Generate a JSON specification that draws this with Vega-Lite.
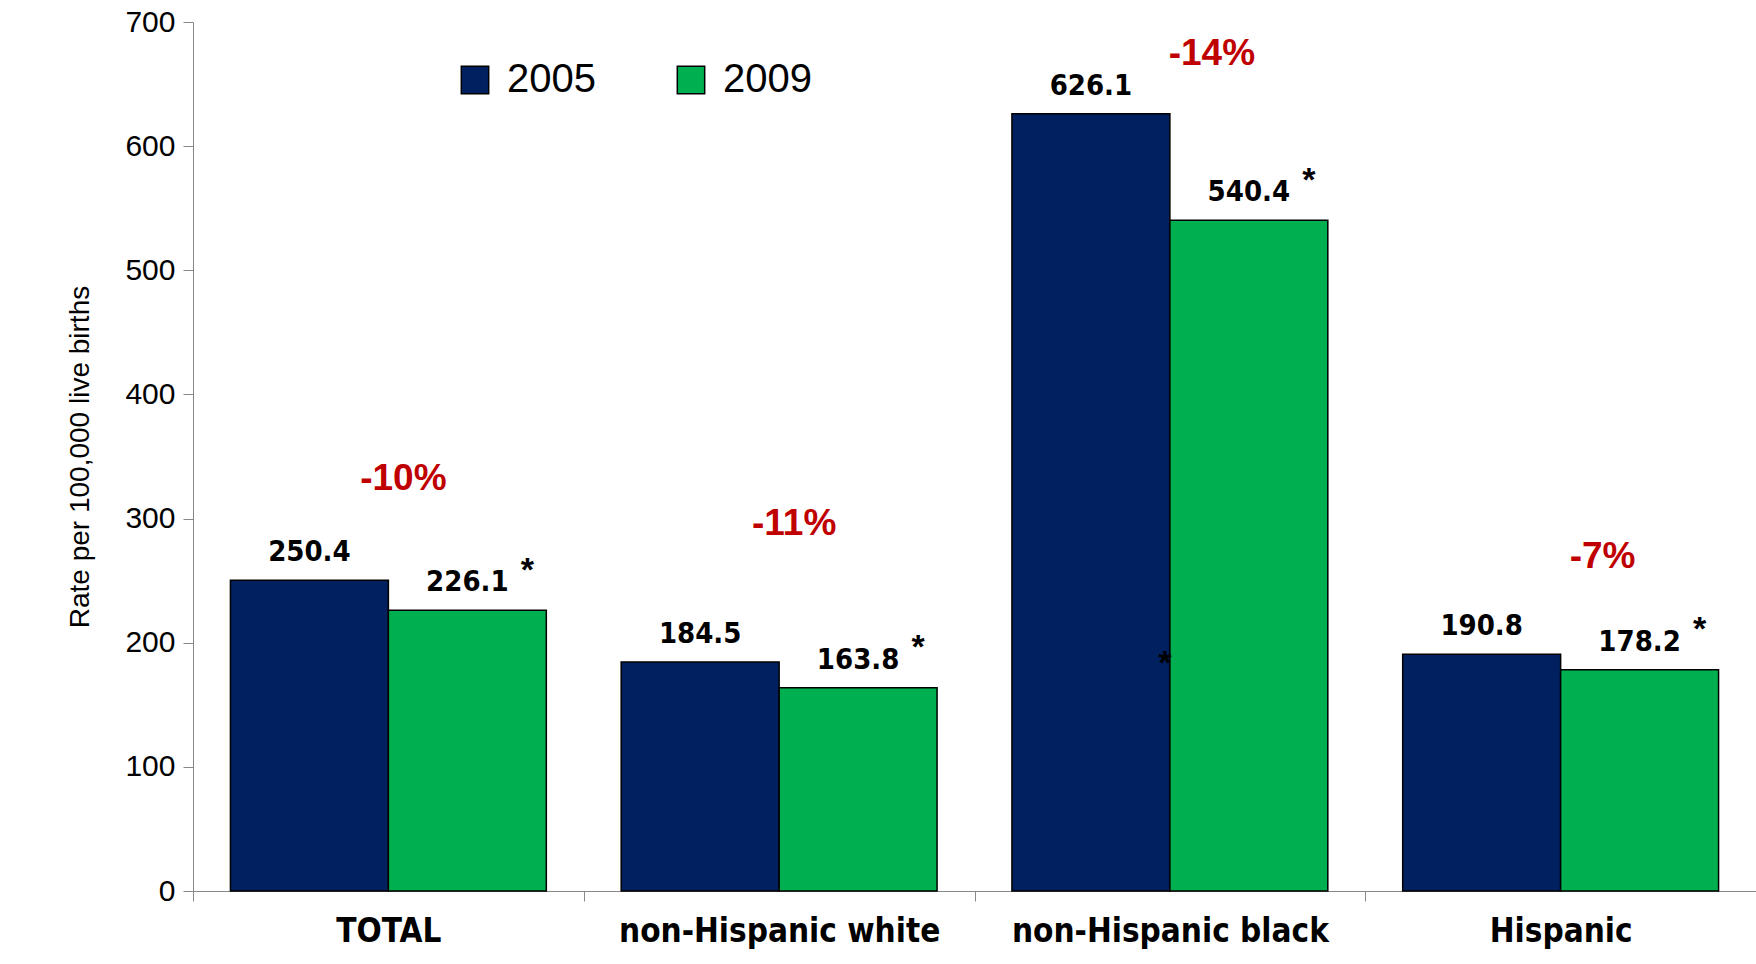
{
  "$schema": "https://vega.github.io/schema/vega-lite/v6.json",
  "width": 1563,
  "height": 869,
  "autosize": {"type": "none"},
  "padding": {"left": 193, "top": 22, "right": 0, "bottom": 73},
  "background": "white",
  "config": {"view": {"stroke": null}, "font": "Liberation Sans"},
  "datasets": {
    "bars": [
      {"group": "TOTAL", "year": "2005", "rate": 250.4, "label": "250.4"},
      {"group": "TOTAL", "year": "2009", "rate": 226.1, "label": "226.1"},
      {"group": "non-Hispanic white", "year": "2005", "rate": 184.5, "label": "184.5"},
      {"group": "non-Hispanic white", "year": "2009", "rate": 163.8, "label": "163.8"},
      {"group": "non-Hispanic black", "year": "2005", "rate": 626.1, "label": "626.1"},
      {"group": "non-Hispanic black", "year": "2009", "rate": 540.4, "label": "540.4"},
      {"group": "Hispanic", "year": "2005", "rate": 190.8, "label": "190.8"},
      {"group": "Hispanic", "year": "2009", "rate": 178.2, "label": "178.2"}
    ],
    "stars": [
      {"group": "TOTAL", "year": "2009", "pos": 258},
      {"group": "non-Hispanic white", "year": "2009", "pos": 196},
      {"group": "non-Hispanic black", "year": "2009", "pos": 572},
      {"group": "Hispanic", "year": "2009", "pos": 210}
    ]
  },
  "encoding": {
    "x": {
      "field": "group", "type": "nominal",
      "sort": ["TOTAL", "non-Hispanic white", "non-Hispanic black", "Hispanic"],
      "scale": {"paddingInner": 0, "paddingOuter": 0},
      "axis": {
        "title": null, "labelAngle": 0, "labelFontSize": 33, "labelFontWeight": "bold",
        "labelFont": "DejaVu Sans Condensed", "labelColor": "black", "labelPadding": 14, "labelLimit": 0,
        "domainColor": "#888", "tickColor": "#888", "tickSize": 10, "tickBand": "extent"
      }
    }
  },
  "layer": [
    {
      "data": {"name": "bars"},
      "mark": {"type": "bar", "stroke": "black", "strokeWidth": 1.5},
      "encoding": {
        "xOffset": {"field": "year", "type": "nominal", "scale": {"domain": ["2005", "2009"], "paddingInner": 0, "paddingOuter": 0.237}},
        "y": {
          "field": "rate", "type": "quantitative",
          "scale": {"domain": [0, 700]},
          "axis": {
            "title": "Rate per 100,000 live births", "titleFontSize": 28, "titleFontWeight": "normal",
            "titleColor": "black", "titlePadding": 30, "labelFontSize": 30, "labelColor": "black",
            "tickCount": 7, "grid": false, "domainColor": "#888", "tickColor": "#888", "tickSize": 10, "labelPadding": 8
          }
        },
        "color": {
          "field": "year", "type": "nominal",
          "scale": {"domain": ["2005", "2009"], "range": ["#002060", "#00B050"]},
          "legend": {
            "title": null, "orient": "none", "legendX": 262, "legendY": 38, "direction": "horizontal",
            "symbolType": "square", "symbolSize": 750, "symbolStrokeColor": "black", "symbolStrokeWidth": 1.5,
            "labelFontSize": 40, "labelColor": "black", "columnPadding": 75, "labelOffset": 12
          }
        }
      }
    },
    {
      "data": {"name": "bars"},
      "mark": {"type": "text", "dy": -28, "fontSize": 29, "fontWeight": "bold", "font": "DejaVu Sans Condensed", "color": "black"},
      "encoding": {
        "xOffset": {"field": "year", "type": "nominal"},
        "y": {"field": "rate", "type": "quantitative"},
        "text": {"field": "label"}
      }
    },
    {
      "data": {"name": "stars"},
      "mark": {"type": "text", "dx": 60, "fontSize": 34, "fontWeight": "bold", "color": "black"},
      "encoding": {
        "xOffset": {"field": "year", "type": "nominal"},
        "y": {"field": "pos", "type": "quantitative"},
        "text": {"value": "*"}
      }
    },
    {
      "data": {"values": [{"group": "non-Hispanic black", "pos": 183}]},
      "mark": {"type": "text", "dx": -5, "fontSize": 34, "fontWeight": "bold", "color": "black"},
      "encoding": {
        "y": {"field": "pos", "type": "quantitative"},
        "text": {"value": "*"}
      }
    },
    {
      "data": {"values": [
        {"group": "TOTAL", "pos": 332, "text": "-10%"},
        {"group": "non-Hispanic white", "pos": 296, "text": "-11%"}
      ]},
      "mark": {"type": "text", "dx": 15, "fontSize": 37, "fontWeight": "bold", "color": "#C00000"},
      "encoding": {
        "y": {"field": "pos", "type": "quantitative"},
        "text": {"field": "text"}
      }
    },
    {
      "data": {"values": [
        {"group": "non-Hispanic black", "pos": 674, "text": "-14%"},
        {"group": "Hispanic", "pos": 269, "text": "-7%"}
      ]},
      "mark": {"type": "text", "dx": 42, "fontSize": 37, "fontWeight": "bold", "color": "#C00000"},
      "encoding": {
        "y": {"field": "pos", "type": "quantitative"},
        "text": {"field": "text"}
      }
    }
  ]
}
